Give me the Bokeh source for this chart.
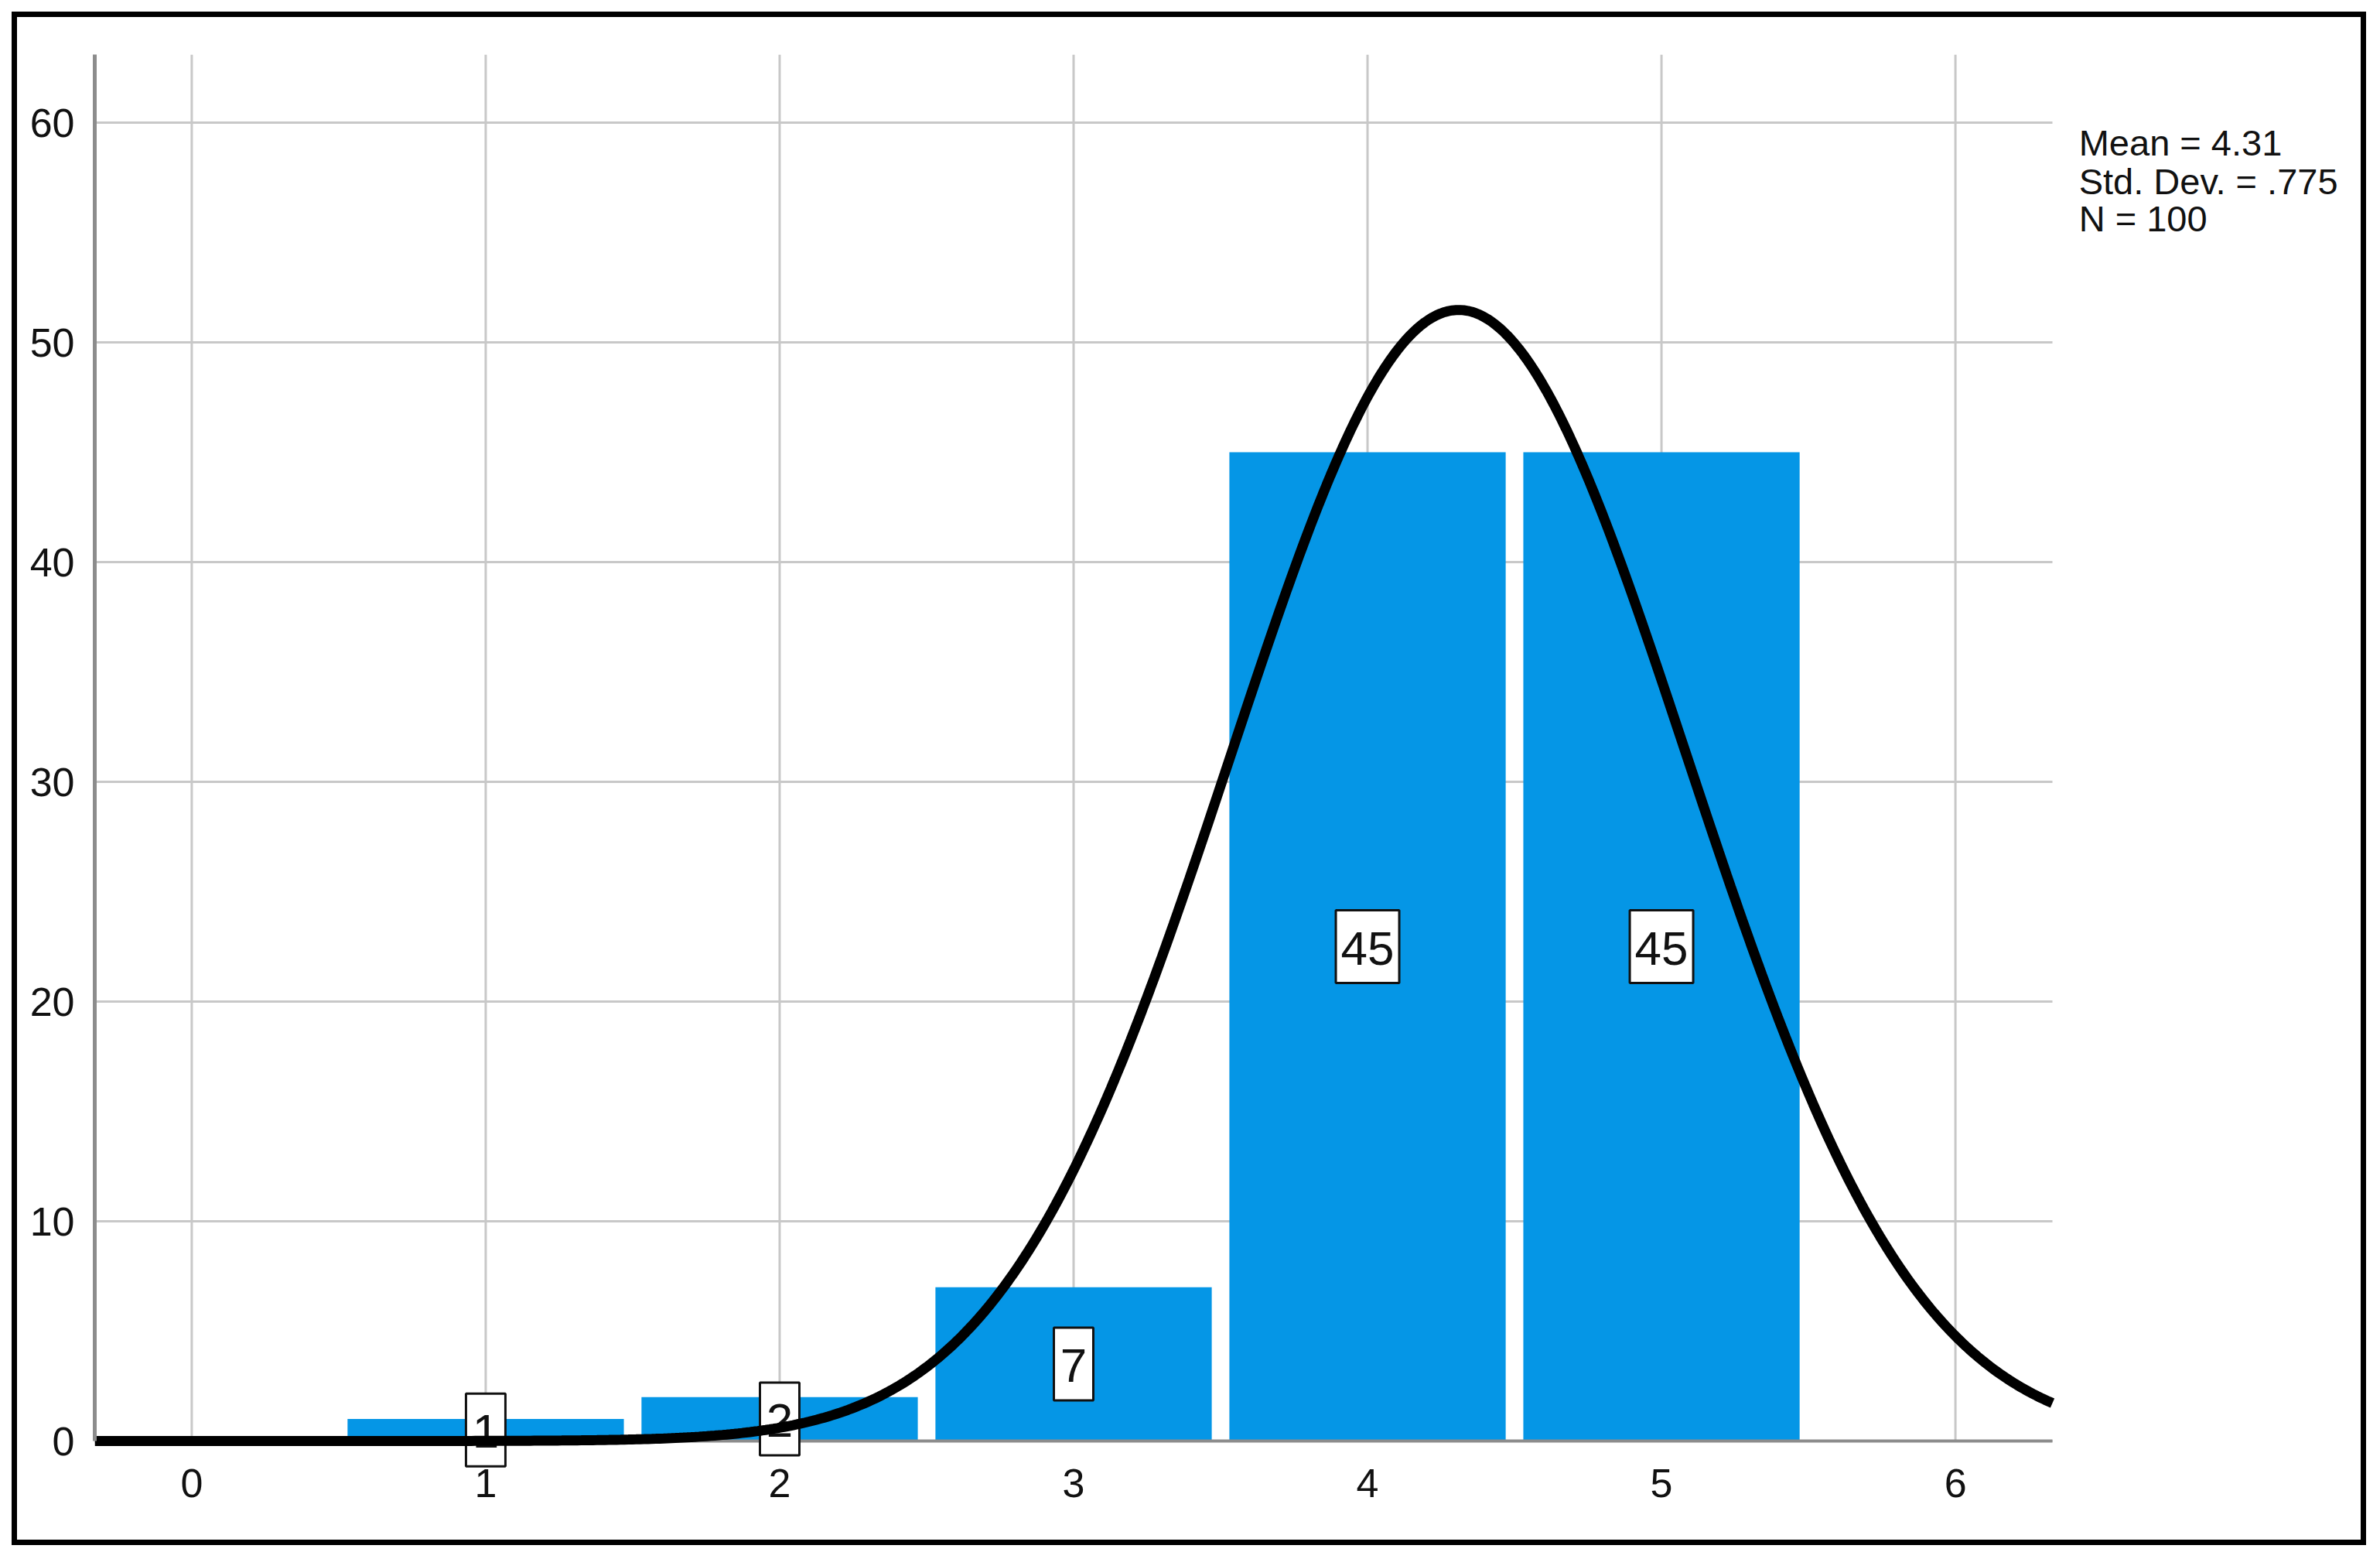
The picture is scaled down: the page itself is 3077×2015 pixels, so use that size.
import numpy as np
from bokeh.plotting import figure
from bokeh.models import ColumnDataSource, Label, FixedTicker, Range1d
from bokeh.core.properties import value
from bokeh.embed import file_html
from bokeh.resources import INLINE

# ---- data ----
categories = [1, 2, 3, 4, 5]
counts = [1, 2, 7, 45, 45]
bar_labels = ["1", "2", "7", "45", "45"]
x_ticks = [0, 1, 2, 3, 4, 5, 6]
y_ticks = [0, 10, 20, 30, 40, 50, 60]
MEAN = 4.31
STD_DEV = 0.775
N = 100
BIN_WIDTH = 1.0
stats_lines = ["Mean = 4.31", "Std. Dev. = .775", "N = 100"]

# ---- layout / style ----
BLUE = "#0596E6"
GRID = "#c8c8c8"
AXIS = "#8c8c8c"
X_MIN, X_AXIS_END = -0.33, 6.33
Y_MAX = 63.1
W, H = 3074, 2012
FRAME_L, FRAME_R_AXIS, FRAME_R, FRAME_T = 122, 2653, 3040, 70
Y0_PX, FRAME_B = 1862, 1898
px_x = (FRAME_R_AXIS - FRAME_L) / (X_AXIS_END - X_MIN)
px_y = (Y0_PX - FRAME_T) / Y_MAX
X_EXT = X_MIN + (FRAME_R - FRAME_L) / px_x
Y_MIN = -(FRAME_B - Y0_PX) / px_y

p = figure(width=W, height=H, output_backend="svg", toolbar_location=None,
           x_range=Range1d(X_MIN, X_EXT), y_range=Range1d(Y_MIN, Y_MAX),
           min_border_left=FRAME_L, min_border_right=W - FRAME_R,
           min_border_top=FRAME_T, min_border_bottom=H - FRAME_B)
p.outline_line_color = None
p.background_fill_color = "white"
p.border_fill_color = None
p.styles = {"outline": "7px solid black", "outline-offset": "-22px",
            "background-color": "white"}

# grids (drawn as segments so they stop at the axes)
p.xgrid.grid_line_color = None
p.ygrid.grid_line_color = None
p.segment(x0=x_ticks, x1=x_ticks, y0=[0] * len(x_ticks), y1=[Y_MAX] * len(x_ticks),
          line_color=GRID, line_width=3, level="underlay")
p.segment(x0=[X_MIN] * len(y_ticks), x1=[X_AXIS_END] * len(y_ticks),
          y0=y_ticks, y1=y_ticks, line_color=GRID, line_width=3, level="underlay")

# axes
p.xaxis.ticker = FixedTicker(ticks=x_ticks)
p.yaxis.ticker = FixedTicker(ticks=y_ticks)
p.yaxis.bounds = (0, Y_MAX)
for ax in (p.xaxis, p.yaxis):
    ax.major_label_text_font = "Liberation Sans"
    ax.major_label_text_font_size = "52px"
    ax.major_label_text_color = "#111111"
    ax.major_tick_line_color = None
    ax.minor_tick_line_color = None
    ax.axis_line_color = AXIS
    ax.axis_line_width = 5
p.xaxis.axis_line_color = None
p.xaxis.major_label_standoff = (Y0_PX + 30) - FRAME_B
p.yaxis.major_label_standoff = 20

# bars
src = ColumnDataSource(dict(x=categories, top=counts,
                            mid=[c / 2 for c in counts], label=bar_labels,
                            box_w=[20 + 31 * len(s) for s in bar_labels]))
p.vbar(x="x", top="top", bottom=0, width=0.94, source=src,
       fill_color=BLUE, line_color=None)

# x axis line at zero
p.segment(x0=[X_MIN], x1=[X_AXIS_END], y0=[0], y1=[0], line_color=AXIS, line_width=4)

# count labels in boxes
p.rect(x="x", y="mid", width="box_w", height=94, width_units="screen",
       height_units="screen", source=src, fill_color="white",
       line_color="#111111", line_width=3)
p.text(x="x", y="mid", text="label", source=src, y_offset=2,
       text_align="center", text_baseline="middle",
       text_font=value("Liberation Sans"), text_font_size="62px",
       text_color="#111111")

# normal curve from the stated parameters
xs = np.linspace(X_MIN, X_AXIS_END, 500)
ys = N * BIN_WIDTH * np.exp(-0.5 * ((xs - MEAN) / STD_DEV) ** 2) / (STD_DEV * np.sqrt(2 * np.pi))
p.line(xs, ys, line_color="black", line_width=13)

# stats text
stat_y = [59.10, 57.34, 55.65]
for txt, yy in zip(stats_lines, stat_y):
    p.add_layout(Label(x=6.42, y=yy, text=txt, text_font="Liberation Sans",
                       text_font_size="47px", text_color="#111111",
                       text_baseline="alphabetic", text_align="left"))

open("out.html", "w").write(file_html(p, INLINE))
